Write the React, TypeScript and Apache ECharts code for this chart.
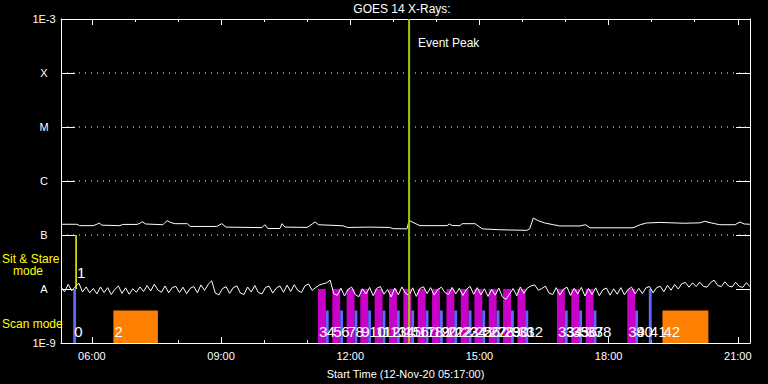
import React, { useEffect, useRef } from 'react';
import * as echarts from 'echarts';

// ---------- texts ----------
const TITLE = 'GOES 14 X-Rays:';
const X_NAME = 'Start Time (12-Nov-20 05:17:00)';
const PEAK_TEXT = 'Event Peak';

// ---------- axes (time in minutes since 00:00 of 12-Nov-20) ----------
const X_MIN = 317; // 05:17
const X_MAX = 1277; // 21:17
const MAJOR_TICKS = [360, 540, 720, 900, 1080, 1260];
const MINOR_TICKS = [360, 420, 480, 540, 600, 660, 720, 780, 840, 900, 960, 1020, 1080, 1140, 1200, 1260];
const Y_MIN = 1e-9;
const Y_MAX = 1e-3;
const Y_EXPONENTS = [-9, -8, -7, -6, -5, -4, -3];
const Y_LABELS = ['1E-9', 'A', 'B', 'C', 'M', 'X', '1E-3'];
const CLASS_LINES = [1e-7, 1e-6, 1e-5, 1e-4];
const EVENT_PEAK = 802; // 13:22

// ---------- long channel (1-8 A), flux in 1e-9 W/m2 ----------
const longTimes = [317, 339, 343, 362, 367, 370, 374, 399, 403, 423, 427, 430, 435, 459, 462, 465, 470, 476, 493, 497, 534, 541, 547, 597, 601, 605, 622, 625, 629, 660, 667, 671, 676, 710, 716, 748, 775, 780, 799, 802, 806, 812, 817, 855, 858, 862, 873, 876, 894, 898, 904, 929, 966, 970, 975, 982, 991, 1003, 1012, 1040, 1048, 1054, 1114, 1124, 1133, 1152, 1168, 1186, 1207, 1214, 1224, 1235, 1256, 1263, 1269, 1277];
const longFlux = [158, 158, 149, 149, 158, 167, 152, 149, 157, 157, 165, 176, 160, 155, 170, 184, 170, 162, 162, 144, 144, 162, 140, 137, 155, 132, 132, 162, 140, 138, 160, 174, 155, 148, 138, 140, 138, 131, 130, 186, 175, 160, 149, 149, 160, 150, 149, 162, 162, 148, 130, 125, 122, 130, 206, 184, 167, 155, 147, 147, 155, 136, 136, 155, 167, 171, 168, 165, 168, 179, 166, 155, 155, 174, 160, 158];

// ---------- short channel (0.5-4 A), 5-minute samples from 05:17, flux in 1e-9 W/m2 ----------
const SHORT_START = 317;
const SHORT_STEP = 5;
const shortFlux = [
  10.8, 8.9, 12.2, 9.3, 11.0, 12.8, 8.8, 10.9, 8.5, 10.2,
  8.1, 10.9, 8.6, 10.6, 7.9, 9.8, 11.4, 8.3, 10.5, 8.0,
  10.1, 8.7, 10.9, 9.0, 11.6, 9.2, 12.3, 9.6, 8.7, 11.4,
  8.5, 10.6, 11.2, 8.6, 10.8, 8.2, 10.3, 11.1, 8.5, 11.9,
  9.4, 12.2, 14.2, 8.4, 7.8, 10.2, 11.0, 8.3, 10.6, 11.4,
  8.4, 7.9, 10.9, 8.8, 11.6, 8.6, 8.1, 10.7, 11.3, 8.4,
  10.4, 11.4, 8.7, 11.8, 9.0, 12.0, 9.4, 8.6, 11.5, 12.4,
  9.4, 10.7, 11.8, 12.5, 13.0, 14.6, 8.2, 7.6, 10.4, 7.4,
  9.9, 10.8, 7.9, 7.2, 10.1, 8.1, 10.7, 7.5, 10.3, 11.1,
  8.0, 9.8, 7.1, 10.4, 7.8, 10.9, 8.3, 7.6, 10.5, 7.3,
  10.2, 11.0, 8.2, 10.6, 7.7, 9.8, 10.8, 8.6, 7.9, 10.7,
  8.1, 10.3, 7.6, 9.9, 11.2, 8.0, 10.6, 7.8, 10.1, 7.3,
  9.8, 7.7, 10.4, 7.2, 6.4, 8.1, 10.2, 7.5, 10.9, 8.3,
  10.5, 11.4, 11.9, 9.5, 10.2, 11.3, 8.4, 7.9, 10.6, 7.7,
  9.9, 10.8, 7.6, 10.3, 8.1, 10.7, 7.4, 10.2, 7.9, 10.5,
  7.5, 9.7, 10.4, 7.7, 10.1, 8.0, 10.6, 7.8, 9.8, 10.8,
  8.1, 10.3, 8.2, 10.5, 11.1, 8.5, 10.6, 11.2, 8.9, 11.7,
  9.5, 12.1, 10.0, 12.6, 13.2, 10.8, 13.0, 11.1, 13.4, 11.2,
  10.8, 13.1, 14.6, 11.6, 11.1, 13.6, 11.4, 10.9, 13.3, 11.2,
  10.7, 13.1, 11.0,
];

// ---------- observation events (labels are their indices) ----------
const eventStart = [334, 338, 390, 675, 686, 695, 706, 715, 726, 734, 745, 754, 765, 774, 785, 794, 805, 814, 825, 834, 845, 854, 865, 874, 885, 893, 904, 913, 924, 933, 944, 953, 964, 1008, 1019, 1028, 1039, 1048, 1059, 1106, 1117, 1136, 1155];
const eventEnd = [338, 338, 452, 686, 690, 706, 710, 726, 730, 745, 749, 765, 769, 785, 789, 805, 809, 825, 829, 845, 849, 865, 869, 885, 889, 904, 908, 924, 928, 944, 948, 964, 968, 1019, 1023, 1039, 1043, 1059, 1063, 1117, 1121, 1140, 1219];
const eventKind = ['tall', 'sit', 'box', 'scan', 'short', 'scan', 'short', 'scan', 'short', 'scan', 'short', 'scan', 'short', 'scan', 'short', 'scan', 'short', 'scan', 'short', 'scan', 'short', 'scan', 'short', 'scan', 'short', 'scan', 'short', 'scan', 'short', 'scan', 'short', 'scan', 'short', 'scan', 'short', 'scan', 'short', 'scan', 'short', 'scan', 'short', 'tall', 'box'];
const KINDS = ['tall', 'sit', 'box', 'scan', 'short'];
const kindLow: Record<string, number> = { tall: 1e-9, sit: 1e-8, box: 1e-9, scan: 1e-9, short: 1e-9 };
const kindHigh: Record<string, number> = { tall: 1e-8, sit: 1e-7, box: 4e-9, scan: 1e-8, short: 4e-9 };

// ---------- style ----------
const FONT = '"Liberation Sans", Arial, sans-serif';
const KIND_COLOR: Record<string, string> = { tall: '#6464ff', sit: '#ffff00', box: '#ff8000', scan: '#c800c8', short: '#6464ff' };
const LABEL_LEVEL_SCAN = 1.6e-9;
const LABEL_LEVEL_SIT = 2.05e-8;

const pad = (n: number) => (n < 10 ? '0' + n : '' + n);
const fmtTime = (m: number) => pad(Math.floor(m / 60)) + ':' + pad(Math.round(m % 60));

function buildOption() {
  const white = '#ffffff';
  const eventData = eventStart.map((s, i) => [s, eventEnd[i], kindLow[eventKind[i]], kindHigh[eventKind[i]], KINDS.indexOf(eventKind[i])]);
  const labelData = eventStart.map((s, i) => [s, eventKind[i] === 'sit' ? LABEL_LEVEL_SIT : LABEL_LEVEL_SCAN, i]);

  const xBase = {
    type: 'value',
    min: X_MIN,
    max: X_MAX,
    gridIndex: 0,
    splitLine: { show: false },
    axisLine: { show: true, onZero: false, lineStyle: { color: white, width: 1 } },
  };
  const yBase = {
    type: 'log',
    logBase: 10,
    min: Y_MIN,
    max: Y_MAX,
    splitNumber: 6,
    splitLine: { show: false },
    minorTick: { show: false },
    axisLine: { show: true, lineStyle: { color: white, width: 1 } },
    axisTick: { show: true, inside: true, length: 14, lineStyle: { color: white, width: 1 } },
  };

  const classLineSeries = CLASS_LINES.map((v) => ({
    type: 'line',
    name: 'class-' + v,
    xAxisIndex: 0,
    yAxisIndex: 0,
    z: 1,
    symbol: 'none',
    silent: true,
    lineStyle: { color: white, width: 1, type: [1, 5] },
    data: [[X_MIN, v], [X_MAX, v]],
  }));

  return {
    animation: false,
    backgroundColor: '#000000',
    grid: { left: 61, top: 19, width: 689, height: 324, containLabel: false },
    xAxis: [
      {
        ...xBase,
        position: 'bottom',
        name: X_NAME,
        nameLocation: 'middle',
        nameGap: 25,
        nameTextStyle: { color: white, fontSize: 11, fontFamily: FONT },
        axisTick: { show: true, inside: true, length: 6, customValues: MAJOR_TICKS, lineStyle: { color: white } },
        axisLabel: { show: true, customValues: MAJOR_TICKS, color: white, fontSize: 11, fontFamily: FONT, margin: 7, formatter: (v: number) => fmtTime(v) },
      },
      {
        ...xBase,
        position: 'bottom',
        axisLine: { show: false, onZero: false },
        axisTick: { show: true, inside: true, length: 3, customValues: MINOR_TICKS, lineStyle: { color: white } },
        axisLabel: { show: false },
      },
      {
        ...xBase,
        position: 'top',
        axisTick: { show: true, inside: true, length: 6, customValues: MAJOR_TICKS, lineStyle: { color: white } },
        axisLabel: { show: false },
      },
      {
        ...xBase,
        position: 'top',
        axisLine: { show: false, onZero: false },
        axisTick: { show: true, inside: true, length: 3, customValues: MINOR_TICKS, lineStyle: { color: white } },
        axisLabel: { show: false },
      },
    ],
    yAxis: [
      {
        ...yBase,
        position: 'left',
        axisLabel: {
          show: true,
          color: white,
          fontSize: 11,
          fontFamily: FONT,
          align: 'center',
          margin: 17,
          formatter: (v: number) => {
            const e = Math.round(Math.log10(v));
            const k = Y_EXPONENTS.indexOf(e);
            return k >= 0 ? Y_LABELS[k] : '';
          },
        },
      },
      {
        ...yBase,
        position: 'right',
        axisLabel: { show: false },
      },
    ],
    graphic: [
      { type: 'text', x: 402, y: 9, style: { text: TITLE, fill: white, fontSize: 12, fontFamily: FONT, align: 'center', verticalAlign: 'middle' } },
      { type: 'text', x: 418, y: 43, style: { text: PEAK_TEXT, fill: white, fontSize: 12, fontFamily: FONT, align: 'left', verticalAlign: 'middle' } },
      { type: 'text', x: 2, y: 259, style: { text: 'Sit & Stare', fill: '#ffff00', fontSize: 12, fontFamily: FONT, align: 'left', verticalAlign: 'middle' } },
      { type: 'text', x: 13, y: 271, style: { text: 'mode', fill: '#ffff00', fontSize: 12, fontFamily: FONT, align: 'left', verticalAlign: 'middle' } },
      { type: 'text', x: 2, y: 324, style: { text: 'Scan mode', fill: '#ffff00', fontSize: 12, fontFamily: FONT, align: 'left', verticalAlign: 'middle' } },
    ],
    series: [
      ...classLineSeries,
      {
        type: 'custom',
        name: 'events',
        xAxisIndex: 0,
        yAxisIndex: 0,
        z: 2,
        clip: true,
        encode: { x: [0, 1], y: [2, 3] },
        data: eventData,
        renderItem: (params: any, api: any) => {
          const kind = KINDS[api.value(4)];
          const color = KIND_COLOR[kind];
          const p0 = api.coord([api.value(0), api.value(3)]);
          const p1 = api.coord([api.value(1), api.value(2)]);
          if (kind === 'sit') {
            return { type: 'line', shape: { x1: p0[0], y1: p0[1], x2: p0[0], y2: p1[1] }, style: { stroke: color, lineWidth: 1.5 } };
          }
          return { type: 'rect', shape: { x: p0[0], y: p0[1], width: p1[0] - p0[0], height: p1[1] - p0[1] }, style: { fill: color } };
        },
      },
      {
        type: 'line',
        name: 'long',
        xAxisIndex: 0,
        yAxisIndex: 0,
        z: 3,
        symbol: 'none',
        lineStyle: { color: white, width: 1 },
        data: longTimes.map((t, i) => [t, longFlux[i] * 1e-9]),
      },
      {
        type: 'line',
        name: 'short',
        xAxisIndex: 0,
        yAxisIndex: 0,
        z: 3,
        symbol: 'none',
        lineStyle: { color: white, width: 1 },
        data: shortFlux.map((v, i) => [SHORT_START + i * SHORT_STEP, v * 1e-9]),
      },
      {
        type: 'line',
        name: 'peak',
        xAxisIndex: 0,
        yAxisIndex: 0,
        z: 4,
        symbol: 'none',
        lineStyle: { color: '#99cc00', width: 2 },
        data: [[EVENT_PEAK, Y_MIN], [EVENT_PEAK, Y_MAX]],
      },
      {
        type: 'custom',
        name: 'labels',
        xAxisIndex: 0,
        yAxisIndex: 0,
        z: 5,
        clip: false,
        encode: { x: 0, y: 1 },
        data: labelData,
        renderItem: (params: any, api: any) => {
          const p = api.coord([api.value(0), api.value(1)]);
          return {
            type: 'text',
            x: p[0] + 1,
            y: p[1],
            style: { text: String(api.value(2)), fill: white, fontSize: 15, fontFamily: FONT, align: 'left', verticalAlign: 'middle' },
          };
        },
      },
    ],
  };
}

export default function App() {
  const ref = useRef<HTMLDivElement>(null);
  useEffect(() => {
    if (!ref.current) return;
    const chart = echarts.init(ref.current, null, { renderer: 'svg' });
    chart.setOption(buildOption() as any);
    return () => chart.dispose();
  }, []);
  return <div ref={ref} style={{ position: 'fixed', left: 0, top: 0, width: 768, height: 384, background: '#000' }} />;
}
